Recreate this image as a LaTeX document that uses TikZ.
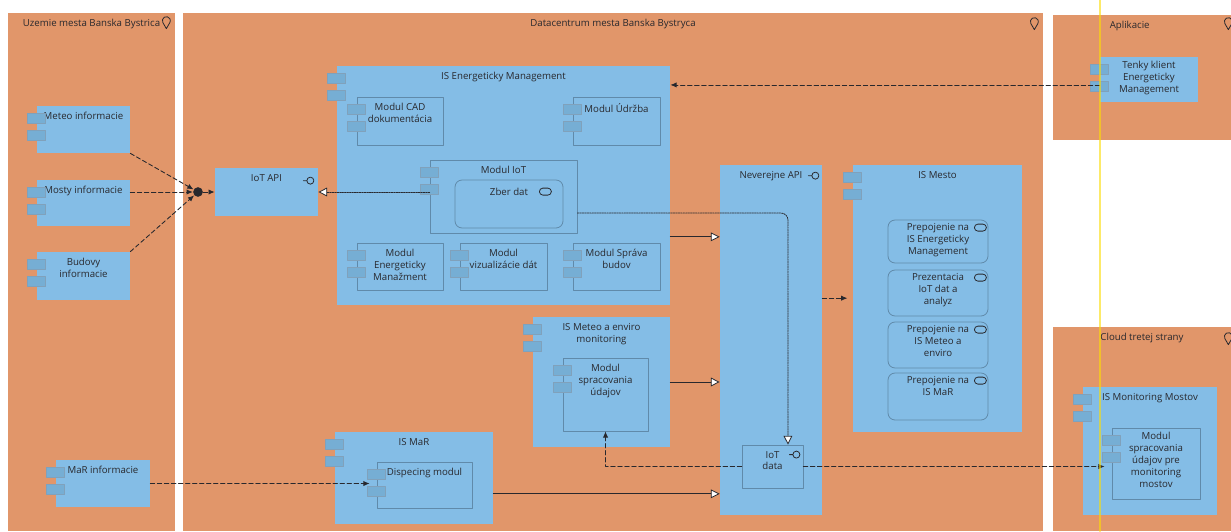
\documentclass[tikz,border=0pt]{standalone}
\usepackage{fontspec}
\setmainfont{Open Sans}
\usetikzlibrary{arrows.meta,fit}

\definecolor{grpbg}{RGB}{225,150,106}
\definecolor{cblue}{RGB}{132,189,230}
\definecolor{ctab}{RGB}{118,174,212}
\definecolor{cline}{RGB}{96,138,170}
\definecolor{ink}{RGB}{40,40,45}

\begin{document}
\begin{tikzpicture}[x=0.02cm,y=-0.02cm,line cap=round,line join=round,
  every node/.style={font=\fontsize{5.5}{6.8}\selectfont,text=ink},
  grp/.style={fill=grpbg,inner sep=0pt},
  comp/.style={fill=cblue,inner sep=0pt},
  sub/.style={comp,draw=cline,line width=0.45pt},
  srvbox/.style={sub,rounded corners=4pt},
  ttl/.style={anchor=north,align=center,inner sep=0.5pt,yshift=-3pt},
  stl/.style={ttl,yshift=1.5pt},
  tab/.style={fill=ctab,draw=cline!80,line width=0.3pt},
  icon/.style={draw=ink,line width=0.45pt},
  flow/.style={draw=ink,line width=0.5pt,dash pattern=on 2.5pt off 1.5pt,-{Latex[length=3.5pt,width=3pt]}},
  real/.style={draw=ink,line width=0.45pt,dash pattern=on 0.8pt off 0.6pt,-{Triangle[fill=white,length=5pt,width=5pt]}},
  spec/.style={draw=ink,line width=0.45pt,-{Triangle[fill=white,length=5pt,width=5pt]}},
  iface/.pic={\draw[icon] (-7,0) -- (-3.5,0) (0,0) circle[radius=3.5];},
  srv/.pic={\draw[icon,rounded corners=2pt] (-6,-3.5) rectangle (6,3.5);},
  pin/.pic={\draw[icon] (0,5) -- (-3.46,-1) arc[start angle=150,end angle=390,radius=4] -- cycle;}]
  \useasboundingbox (0,0) rectangle (1231,531);
  \fill[white] (0,0) rectangle (1231,531);

  % groups
  \node[grp,fit={(8,13) (175,531)}] (uzemie) {};
  \node[ttl] (uzemie-t) at (uzemie.north) {Uzemie mesta Banska Bystrica};
  \node[grp,fit={(183,13) (1043,531)}] (dc) {};
  \node[ttl] (dc-t) at (dc.north) {Datacentrum mesta Banska Bystryca};
  \node[grp,fit={(1053,15) (1231,140)}] (apl) {};
  \node[ttl] (apl-t) at ([xshift=-7pt]apl.north) {Aplikacie};
  \node[grp,fit={(1053,327) (1231,531)}] (cloud) {};
  \node[ttl] (cloud-t) at (cloud.north) {Cloud tretej strany};
  \path (uzemie.north east) ++(-9,11) pic {pin};
  \path (dc.north east) ++(-9,12) pic {pin};
  \path (apl.north east) ++(-3,10) pic {pin};
  \path (cloud.north east) ++(-3,13) pic {pin};

  % left side
  \node[comp,fit={(37,106) (130,153)}] (meteo) {};
  \node[ttl] (meteo-t) at (meteo.north) {Meteo informacie};
  \node[comp,fit={(37,180) (130,226)}] (mosty) {};
  \node[ttl] (mosty-t) at (mosty.north) {Mosty informacie};
  \node[comp,fit={(37,252) (130,300)}] (budovy) {};
  \node[ttl] (budovy-t) at (budovy.north) {Budovy\\informacie};
  \node[comp,fit={(56,460) (150,507)}] (marinf) {};
  \node[ttl] (marinf-t) at (marinf.north) {MaR informacie};

  % datacentrum
  \node[comp,fit={(215,168) (318,216)}] (iotapi) {};
  \node[ttl] (iotapi-t) at (iotapi.north) {IoT API};
  \node[comp,fit={(337,66) (670,305)}] (isem) {};
  \node[ttl] (isem-t) at (isem.north) {IS Energeticky Management};
  \node[sub,fit={(357,97) (443,145)}] (modcad) {};
  \node[ttl] (modcad-t) at (modcad.north) {Modul CAD\\dokumentácia};
  \node[sub,fit={(573,97) (660,145)}] (modudr) {};
  \node[ttl] (modudr-t) at (modudr.north) {Modul Údržba};
  \node[sub,fit={(430,160) (577,233)}] (modiot) {};
  \node[ttl] (modiot-t) at (modiot.north) {Modul IoT};
  \node[srvbox,fit={(455,180) (563,228)}] (zber) {};
  \node[ttl,yshift=-1pt] (zber-t) at (zber.north) {Zber dat};
  \node[sub,fit={(357,243) (443,290)}] (modem) {};
  \node[ttl] (modem-t) at (modem.north) {Modul\\Energeticky\\Manažment};
  \node[sub,fit={(460,243) (547,290)}] (modviz) {};
  \node[ttl] (modviz-t) at (modviz.north) {Modul\\vizualizácie dát};
  \node[sub,fit={(573,243) (660,290)}] (modspb) {};
  \node[ttl] (modspb-t) at (modspb.north) {Modul Správa\\budov};
  \node[comp,fit={(533,317) (670,447)}] (ismet) {};
  \node[ttl] (ismet-t) at (ismet.north) {IS Meteo a enviro\\monitoring};
  \node[sub,fit={(563,358) (648,431)}] (modspr) {};
  \node[ttl] (modspr-t) at (modspr.north) {Modul\\spracovania\\údajov};
  \node[comp,fit={(335,432) (493,524)}] (ismar) {};
  \node[ttl] (ismar-t) at (ismar.north) {IS MaR};
  \node[sub,fit={(377,462) (472,508)}] (dispec) {};
  \node[ttl] (dispec-t) at (dispec.north) {Dispecing modul};
  \node[comp,fit={(720,165) (822,515)}] (nevapi) {};
  \node[ttl] (nevapi-t) at (nevapi.north) {Neverejne API};
  \node[sub,fit={(742,445) (803,488)}] (iotdata) {};
  \node[ttl] (iotdata-t) at (iotdata.north) {IoT\\data};
  \node[comp,fit={(853,165) (1022,432)}] (ismesto) {};
  \node[ttl] (ismesto-t) at (ismesto.north) {IS Mesto};
  \node[srvbox,fit={(888,220) (988,263)}] (svc1) {};
  \node[stl] (svc1-t) at (svc1.north) {Prepojenie na\\IS Energeticky\\Management};
  \node[srvbox,fit={(888,270) (988,316)}] (svc2) {};
  \node[stl] (svc2-t) at (svc2.north) {Prezentacia\\IoT dat a\\analyz};
  \node[srvbox,fit={(888,322) (988,368)}] (svc3) {};
  \node[stl] (svc3-t) at (svc3.north) {Prepojenie na\\IS Meteo a\\enviro};
  \node[srvbox,fit={(888,373) (988,420)}] (svc4) {};
  \node[stl] (svc4-t) at (svc4.north) {Prepojenie na\\IS MaR};

  % right side
  \node[comp,fit={(1100,57) (1198,102)}] (tenky) {};
  \node[ttl,yshift=1pt] (tenky-t) at (tenky.north) {Tenky klient\\Energeticky\\Management};
  \node[comp,fit={(1083,387) (1217,515)}] (ismon) {};
  \node[ttl] (ismon-t) at (ismon.north) {IS Monitoring Mostov};
  \node[sub,fit={(1112,428) (1200,499)}] (modmon) {};
  \node[ttl,yshift=1pt] (modmon-t) at (modmon.north) {Modul\\spracovania\\údajov pre\\monitoring\\mostov};

  % component tabs
  \foreach \n in {meteo,mosty,budovy,marinf,isem,modcad,modudr,modiot,modem,modviz,modspb,
                  ismet,modspr,ismar,dispec,ismesto,tenky,ismon,modmon} {
    \draw[tab] (\n.north west) ++(-9,8) rectangle ++(18,10);
    \draw[tab] (\n.north west) ++(-9,25) rectangle ++(18,10);
  }

  % icons
  \path (iotapi.north east) ++(-8,13) pic {iface};
  \path (nevapi.north east) ++(-7,11) pic {iface};
  \path (iotdata.north east) ++(-7,10) pic {iface};
  \path (zber.north east) ++(-18,12) pic {srv};
  \foreach \s in {svc1,svc2,svc3,svc4}
    \path (\s.north east) ++(-8,8) pic {srv};

  % connectors
  \node[circle,fill=ink,inner sep=0pt,minimum size=5.5pt] (jn) at (198,192) {};
  \draw[flow] (meteo.south east) -- (jn);
  \draw[flow] (mosty.east |- jn) -- (jn);
  \draw[flow] (budovy.north east) -- (jn);
  \draw[flow] (jn) -- (iotapi.west |- jn);
  \draw[flow] ([yshift=-3.1pt]tenky.west) -- ([yshift=-3.1pt]tenky.west -| isem.east);
  \draw[real] (modiot.west |- iotapi.east) -- (iotapi.east);
  \draw[real,rounded corners=4pt] ([yshift=-9.4pt]modiot.east) -| ([xshift=8.8pt]iotdata.north);
  \draw[spec] ([yshift=-29.2pt]isem.east) -- ([yshift=-29.2pt]isem.east -| nevapi.west);
  \draw[spec] (ismet.east) -- (ismet.east -| nevapi.west);
  \draw[spec] ([yshift=-9pt]ismar.east) -- ([yshift=-9pt]ismar.east -| nevapi.west);
  \draw[flow,shorten >=3pt] ([yshift=23.8pt]nevapi.east) -- ([yshift=23.8pt]nevapi.east -| ismesto.west);
  \draw[flow] (iotdata.west) -| (modspr.south);
  \draw[flow,shorten >=4pt] (iotdata.east) -- (iotdata.east -| modmon.west);
  \draw[flow,shorten >=4pt] (marinf.east) -- (marinf.east -| dispec.west);

  \draw[yellow!80!orange,opacity=0.6,line width=1.5pt] (1100,0) -- (1100,531);
\end{tikzpicture}
\end{document}
